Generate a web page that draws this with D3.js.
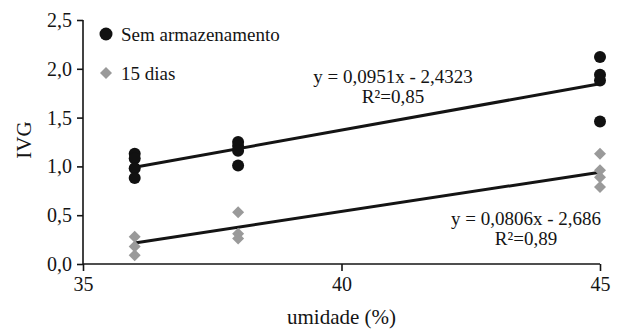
<!DOCTYPE html>
<html>
<head>
<meta charset="utf-8">
<script src="https://cdn.jsdelivr.net/npm/d3@7"></script>
<style>
    body { margin: 0; background: #fff; }
    svg { font-family: "Liberation Serif", "Times New Roman", serif; }
</style>
</head>
<body>
<div class="chart-container"></div>
<script>
// umidade (%) of each group
const umidade = [36, 38, 45];

// IVG readings per umidade group
const semArmazenamento = [
    [1.13, 1.08, 0.98, 0.88],
    [1.25, 1.21, 1.16, 1.01],
    [2.12, 1.94, 1.88, 1.46]
];
const quinzeDias = [
    [0.28, 0.18, 0.09],
    [0.53, 0.31, 0.26],
    [1.13, 0.96, 0.89, 0.79]
];

// fitted lines: y = a*x + b
const fitSem = { a: 0.0951, b: -2.4323, label: "y = 0,0951x - 2,4323", r2: "R²=0,85" };
const fit15 = { a: 0.0806, b: -2.686, label: "y = 0,0806x - 2,686", r2: "R²=0,89" };

const xTicks = [35, 40, 45];
const yTicks = [0, 0.5, 1, 1.5, 2, 2.5];
const legendLabels = ["Sem armazenamento", "15 dias"];

const margin = { top: 20, right: 18, bottom: 69, left: 83 };
const width = 618 - margin.left - margin.right;
const height = 333 - margin.top - margin.bottom;
const ink = "#141414";

const svg = d3.select(".chart-container")
    .append("svg")
    .attr("width", 618)
    .attr("height", 333)
    .append("g")
    .attr("transform", `translate(${margin.left}, ${margin.top})`);

const xScale = d3.scaleLinear()
    .domain([35, 45])
    .range([0, width]);

const yScale = d3.scaleLinear()
    .domain([0, 2.5])
    .range([height, 0]);

const comma = d3.formatLocale({ decimal: ",", thousands: ".", grouping: [3], currency: ["", ""] });

const xAxis = d3.axisBottom(xScale)
    .tickValues(xTicks)
    .tickSize(7)
    .tickPadding(6)
    .tickFormat(d3.format("d"));

const yAxis = d3.axisLeft(yScale)
    .tickValues(yTicks)
    .tickSize(6)
    .tickPadding(5)
    .tickFormat(comma.format(".1f"));

const gx = svg.append("g")
    .attr("transform", `translate(0, ${height})`)
    .call(xAxis);

const gy = svg.append("g")
    .call(yAxis);

[gx, gy].forEach(g => {
    g.select(".domain").attr("stroke", ink).attr("stroke-width", 1.6);
    g.selectAll(".tick line").attr("stroke", ink).attr("stroke-width", 1.6);
    g.selectAll(".tick text")
        .attr("fill", ink)
        .style("font-family", "Liberation Serif")
        .style("font-size", "20px");
});
// remove the outer tick stubs the axis draws
gx.select(".domain").attr("d", `M0,0H${width}`);
gy.select(".domain").attr("d", `M0,${height}V0`);

// fitted lines
[fitSem, fit15].forEach(f => {
    svg.append("line")
        .attr("x1", xScale(umidade[0]))
        .attr("y1", yScale(f.a * umidade[0] + f.b))
        .attr("x2", xScale(umidade[2]))
        .attr("y2", yScale(f.a * umidade[2] + f.b))
        .attr("stroke", ink)
        .attr("stroke-width", 3);
});

const flat = (groups) => groups.flatMap((vals, i) => vals.map(v => ({ x: umidade[i], y: v })));

const diamond = d3.symbol().type(d3.symbolSquare).size(72);

svg.append("g")
    .selectAll("path")
    .data(flat(quinzeDias))
    .join("path")
    .attr("d", diamond)
    .attr("transform", d => `translate(${xScale(d.x)}, ${yScale(d.y)}) rotate(45)`)
    .attr("fill", "#9a9a9a");

svg.append("g")
    .selectAll("circle")
    .data(flat(semArmazenamento))
    .join("circle")
    .attr("cx", d => xScale(d.x))
    .attr("cy", d => yScale(d.y))
    .attr("r", 6)
    .attr("fill", "#111");

// legend
const legend = svg.append("g").attr("transform", "translate(23, 14)");
legend.append("circle").attr("cx", 0).attr("cy", 0).attr("r", 6.5).attr("fill", "#111");
legend.append("path")
    .attr("d", diamond)
    .attr("transform", "translate(0, 39) rotate(45)")
    .attr("fill", "#9a9a9a");
legendLabels.forEach((t, i) => {
    legend.append("text")
        .attr("x", 15)
        .attr("y", i * 39 + 7)
        .attr("fill", ink)
        .style("font-size", "19px")
        .text(t);
});

// equations
const eq = (f, cx, y) => {
    const g = svg.append("g").attr("text-anchor", "middle").attr("fill", ink).style("font-size", "19px");
    g.append("text").attr("x", cx).attr("y", y).text(f.label);
    g.append("text").attr("x", cx).attr("y", y + 20).text(f.r2);
};
eq(fitSem, 393 - margin.left, 83 - margin.top);
eq(fit15, 526 - margin.left, 225 - margin.top);

// axis titles
svg.append("text")
    .attr("x", width / 2)
    .attr("y", height + 60)
    .attr("text-anchor", "middle")
    .attr("fill", ink)
    .style("font-size", "21px")
    .text("umidade (%)");

svg.append("text")
    .attr("transform", `translate(${25 - margin.left + 6}, ${height / 2 - 2}) rotate(-90)`)
    .attr("text-anchor", "middle")
    .attr("fill", ink)
    .style("font-size", "21px")
    .text("IVG");
</script>
</body>
</html>
